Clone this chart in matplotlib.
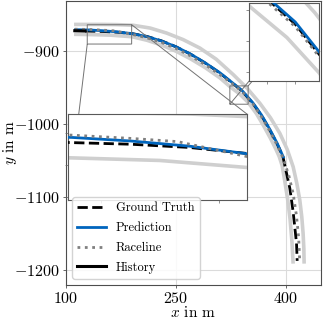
"""Trayectoria en curva: ground truth vs predicción vs raceline, con dos zooms."""

import matplotlib

matplotlib.use("Agg")
import matplotlib.pyplot as plt

plt.rcParams["font.family"] = "serif"
plt.rcParams["font.serif"] = ["cmr10", "DejaVu Serif"]
plt.rcParams["mathtext.fontset"] = "cm"
plt.rcParams["axes.formatter.use_mathtext"] = True

# --- límites de pista (m) ---
outer_x = [111, 130, 150, 170, 191.8, 215, 237.3, 260, 282.7, 305, 328.2, 347, 364.5,
           379, 391.8, 402, 410, 415, 419.1, 421.8, 423.6, 424.6, 425]
outer_y = [-864, -864, -864, -864.3, -865.2, -869, -875.8, -884.8, -896.3, -911.5,
           -932.5, -951, -971.6, -991.5, -1012.7, -1035, -1058.5, -1081, -1104.1,
           -1127, -1149.7, -1170, -1190.8]
inner_x = [111, 130, 160, 190, 210, 230, 250, 270, 290, 310, 324.4, 337, 348.6, 360,
           370, 379, 386, 391, 395, 398.6, 402.5, 405.8, 408.3, 410]
inner_y = [-877.5, -877.8, -878.6, -880.8, -885.5, -892, -900.5, -911, -923, -937,
           -949.5, -959, -970.5, -986, -1003, -1019.5, -1033.5, -1044.5, -1057, -1078,
           -1103, -1130, -1160, -1190.8]

# --- trayectorias (m) ---
gt_x = [126, 130, 150, 170, 190, 210, 230, 250, 270, 290, 310, 325, 340, 355, 367, 378,
        388, 396, 405.5, 410, 414.6, 415.5]
gt_y = [-873.0, -873.1, -873.6, -874.6, -876.5, -880.3, -886.3, -894.5, -904.7, -916.8,
        -930.4, -942.5, -954.7, -971.8, -988.8, -1008, -1027, -1044.5, -1088, -1120,
        -1163, -1187]
pred_x = [113, 130, 150, 170, 190, 210, 230, 250, 270, 290, 310, 325, 340, 355, 367,
          378, 388, 396.5]
pred_y = [-871.2, -871.5, -872.6, -874.2, -876.6, -880.5, -886.5, -894.5, -904.5,
          -916.5, -930, -942, -954, -971, -988, -1007, -1026, -1045]
race_x = [112, 130, 150, 166, 190, 210, 230, 250, 270, 290, 310, 325, 340, 355, 367,
          378, 388, 396, 404, 410, 414.5, 417.5, 419]
race_y = [-870.5, -870.8, -871.8, -872.8, -877.5, -882.2, -888.5, -896.8, -907, -919,
          -932.5, -943.5, -955.5, -972.5, -990.5, -1009.5, -1028.5, -1046, -1070, -1095,
          -1125, -1155, -1188.5]
hist_x = [112, 119, 126]
hist_y = [-872.6, -872.8, -873.0]

TUM_BLUE = "#0065bd"
TRACK_GRAY = "#cfcfcf"


def draw_scene(ax, label=True):
    ax.plot(outer_x, outer_y, color=TRACK_GRAY, lw=2.6, solid_capstyle="butt", zorder=1)
    ax.plot(inner_x, inner_y, color=TRACK_GRAY, lw=2.6, solid_capstyle="butt", zorder=1)
    ax.plot(gt_x, gt_y, color="black", ls="--", lw=2,
            label="Ground Truth" if label else None, zorder=3)
    ax.plot(pred_x, pred_y, color=TUM_BLUE, lw=2,
            label="Prediction" if label else None, zorder=4)
    ax.plot(race_x, race_y, color="gray", ls=":", lw=2,
            label="Raceline" if label else None, zorder=5)
    ax.plot(hist_x, hist_y, color="black", lw=2.2,
            label="History" if label else None, zorder=6)


def make_inset(ax, bounds, xlim, ylim):
    axins = ax.inset_axes(bounds)
    draw_scene(axins, label=False)
    axins.set_xlim(*xlim)
    axins.set_ylim(*ylim)
    axins.set_xticklabels([])
    axins.set_yticklabels([])
    axins.tick_params(length=2, width=0.5, color="0.4")
    for sp in axins.spines.values():
        sp.set_color("0.35")
        sp.set_linewidth(0.8)
    ax.indicate_inset_zoom(axins, edgecolor="0.45", linewidth=0.7, alpha=1)
    return axins


def main():
    fig = plt.figure(figsize=(3.24, 3.23), dpi=100)
    ax = fig.add_axes([0.2037, 0.1176, 0.787, 0.8793])
    draw_scene(ax)
    ax.set_xlim(100, 448)
    ax.set_ylim(-1220, -832)
    ax.set_xticks([100, 250, 400])
    ax.set_yticks([-900, -1000, -1100, -1200])
    ax.grid(True, color="0.86", lw=0.8)
    ax.set_axisbelow(True)
    ax.tick_params(labelsize=11.5, length=2.5, width=0.6, color="0.3", pad=2)
    for sp in ax.spines.values():
        sp.set_color("0.3")
        sp.set_linewidth(0.8)
    ax.set_xlabel(r"$x$ in m", fontsize=11, labelpad=-1)
    ax.set_ylabel(r"$y$ in m", fontsize=11)
    ax.yaxis.set_label_coords(-0.185, 0.5)

    make_inset(ax, [0.009, 0.299, 0.702, 0.302], (129, 189.6), (-890.8, -864.4))
    make_inset(ax, [0.719, 0.719, 0.2745, 0.2725], (323.6, 348.6), (-973, -948))

    leg = ax.legend(loc="lower left", fontsize=9, framealpha=0.85, edgecolor="0.8",
                    fancybox=True, labelspacing=0.62, handlelength=2.3)
    leg.set_zorder(10)

    fig.savefig("out.png", dpi=100)
    plt.close(fig)


if __name__ == "__main__":
    main()
